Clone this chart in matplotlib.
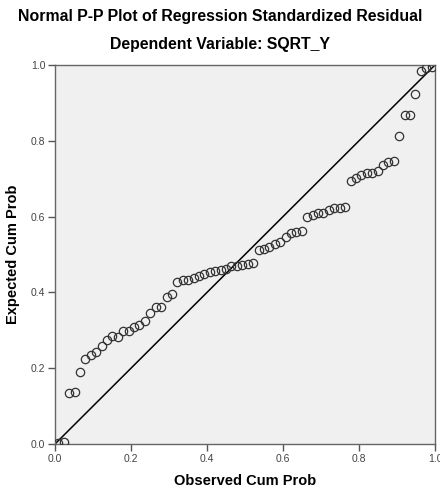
import matplotlib
matplotlib.use("Agg")
import matplotlib.pyplot as plt

# Observed cumulative probability (x) and expected cumulative probability (y)
observed = [0.009, 0.023, 0.037, 0.052, 0.066, 0.080, 0.094, 0.109, 0.123, 0.137,
            0.151, 0.165, 0.180, 0.194, 0.208, 0.222, 0.237, 0.251, 0.265, 0.279,
            0.294, 0.308, 0.322, 0.336, 0.351, 0.365, 0.379, 0.393, 0.407, 0.422,
            0.436, 0.450, 0.464, 0.479, 0.493, 0.507, 0.521, 0.536, 0.550, 0.564,
            0.578, 0.593, 0.607, 0.621, 0.635, 0.649, 0.664, 0.678, 0.692, 0.706,
            0.721, 0.735, 0.749, 0.763, 0.778, 0.792, 0.806, 0.820, 0.835, 0.849,
            0.863, 0.877, 0.891, 0.906, 0.920, 0.934, 0.948, 0.963, 0.977, 0.991]
expected = [0.003, 0.006, 0.134, 0.137, 0.191, 0.224, 0.234, 0.243, 0.258, 0.274,
            0.284, 0.283, 0.298, 0.299, 0.310, 0.313, 0.325, 0.345, 0.361, 0.362,
            0.387, 0.396, 0.428, 0.433, 0.434, 0.439, 0.444, 0.449, 0.453, 0.457,
            0.459, 0.461, 0.470, 0.471, 0.473, 0.475, 0.478, 0.512, 0.515, 0.521,
            0.528, 0.533, 0.545, 0.556, 0.559, 0.562, 0.600, 0.605, 0.609, 0.610,
            0.617, 0.623, 0.624, 0.626, 0.694, 0.703, 0.709, 0.714, 0.716, 0.721,
            0.736, 0.745, 0.747, 0.813, 0.868, 0.868, 0.923, 0.984, 0.993, 0.995]
ticks = [0.0, 0.2, 0.4, 0.6, 0.8, 1.0]
tick_labels = ["0.0", "0.2", "0.4", "0.6", "0.8", "1.0"]

plt.rcParams['font.family'] = ['Liberation Sans', 'DejaVu Sans']

fig = plt.figure(figsize=(4.4, 4.91), dpi=100)
ax = fig.add_axes([0.125, 0.0957, 0.8636, 0.7719])
ax.set_facecolor("#F0F0F0")

ax.plot([0, 1], [0, 1], color="black", lw=1.1, zorder=2)
ax.plot(observed, expected, linestyle="none", marker="o", markersize=6,
        markerfacecolor="none", markeredgecolor="#333333", markeredgewidth=0.9,
        zorder=3)

ax.set_xlim(0, 1)
ax.set_ylim(0, 1)
ax.set_xticks(ticks)
ax.set_xticklabels(tick_labels)
ax.set_yticks(ticks)
ax.set_yticklabels(tick_labels)
ax.tick_params(direction="out", length=5, width=1, color="#555555",
               labelsize=7.5, labelcolor="#444444", pad=2)

for side in ["left", "bottom", "top", "right"]:
    ax.spines[side].set_color("#666666")
    ax.spines[side].set_linewidth(1.0)

ax.set_xlabel("Observed Cum Prob", fontsize=10.5, fontweight="bold", va="center")
ax.set_ylabel("Expected Cum Prob", fontsize=10.5, fontweight="bold", va="center")
ax.xaxis.set_label_coords(0.5, (444 - 481) / 379)
ax.yaxis.set_label_coords((13 - 55) / 380, 0.5)

fig.text(0.5, 1 - 16 / 491, "Normal P-P Plot of Regression Standardized Residual",
         ha="center", va="center", fontsize=11.4, fontweight="bold")
fig.text(0.5, 1 - 44 / 491, "Dependent Variable: SQRT_Y",
         ha="center", va="center", fontsize=11.4, fontweight="bold")

fig.savefig("out.png", dpi=100)
